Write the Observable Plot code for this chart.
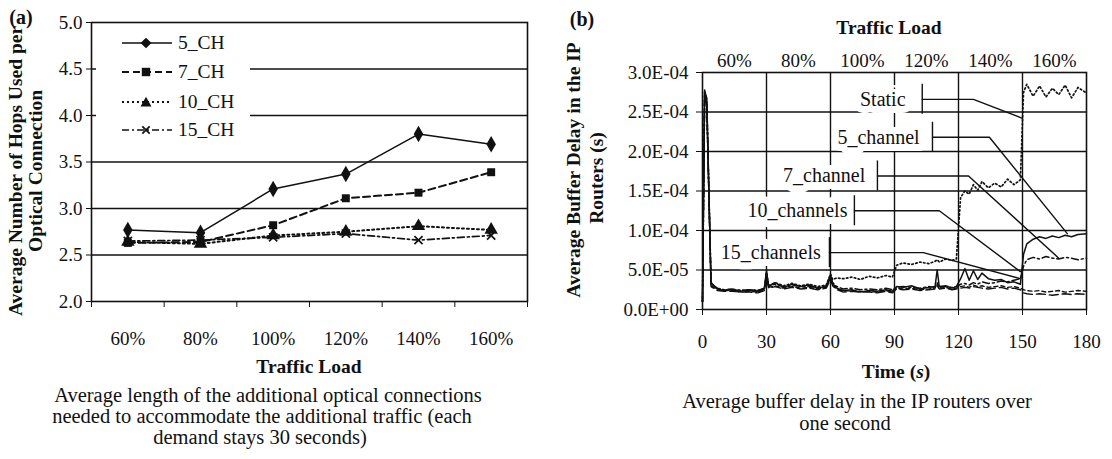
<!DOCTYPE html>
<html>
<head>
<meta charset="utf-8">
<script src="https://cdn.jsdelivr.net/npm/d3@7"></script>
<script src="https://cdn.jsdelivr.net/npm/@observablehq/plot@0.6"></script>
<style>
  html, body { margin: 0; padding: 0; background: #fff; }
  #root { position: relative; width: 1112px; height: 459px; overflow: hidden; background: #fff;
          font-family: "Liberation Serif", "Times New Roman", serif; color: #111; }
  .abs { position: absolute; white-space: nowrap; transform: translate(-50%, -50%); line-height: 1; }
  .rot { transform: translate(-50%, -50%) rotate(-90deg); }
  .b { font-weight: bold; }
  .tt { font-size: 19.5px; }
  .cap { font-size: 20.5px; }
  #panelA, #panelB { position: absolute; top: 0; }
  #panelA { left: 0; }
  #panelB { left: 545px; }
  #legend { position: absolute; left: 96px; top: 28px; width: 154px; height: 118px; background: #fff; }
  .lrow { position: absolute; left: 0; height: 22px; display: flex; align-items: center; font-size: 19.5px; }
  .lrow svg { margin-left: 25px; margin-right: 5px; }
</style>
</head>
<body>
<div id="root">
  <div id="panelA"></div>
  <div id="panelB"></div>
  <div id="legend"></div>

  <div class="abs b" style="left:21px; top:17px; font-size:20px;">(a)</div>
  <div class="abs b" style="left:582px; top:19px; font-size:20px;">(b)</div>

  <div class="abs rot b tt" style="left:16px; top:171px;">Average Number of Hops Used per</div>
  <div class="abs rot b tt" style="left:36px; top:171px;">Optical Connection</div>
  <div class="abs b tt" style="left:309px; top:367px;">Traffic Load</div>
  <div class="abs cap" style="left:268px; top:395px;">Average length of the additional optical connections</div>
  <div class="abs cap" style="left:262px; top:416px;">needed to accommodate the additional traffic (each</div>
  <div class="abs cap" style="left:260px; top:437px;">demand stays 30 seconds)</div>

  <div class="abs rot b tt" style="left:574px; top:170px;">Average Buffer Delay in the IP</div>
  <div class="abs rot b tt" style="left:597px; top:178px;">Routers (s)</div>
  <div class="abs b tt" style="left:889px; top:28px;">Traffic Load</div>
  <div class="abs b tt" style="left:896px; top:372px;">Time (<i>s</i>)</div>
  <div class="abs cap" style="left:857px; top:401px;">Average buffer delay in the IP routers over</div>
  <div class="abs cap" style="left:845px; top:423px;">one second</div>
</div>
<script>
// ---------- Panel (a) data ----------
const loads = ["60%", "80%", "100%", "120%", "140%", "160%"];
const hopSeries = ["5_CH", "7_CH", "10_CH", "15_CH"];
const hops5 = [2.77, 2.74, 3.21, 3.37, 3.80, 3.69];
const hops7 = [2.63, 2.64, 2.82, 3.11, 3.17, 3.39];
const hops10 = [2.64, 2.62, 2.71, 2.75, 2.81, 2.77];
const hops15 = [2.65, 2.66, 2.69, 2.73, 2.66, 2.71];
const hopTicks = [2.0, 2.5, 3.0, 3.5, 4.0, 4.5, 5.0];

// ---------- Panel (b) data (delay in units of 1E-05 s) ----------
const time = [0,1,2,4,7,10,14,18,22,26,
  29,30,31,34,38,42,46,50,54,58,
  60,61,63,66,70,74,78,82,86,89,
  91,94,98,102,106,109,110,111,114,117,
  119,121,123,125,127,129,131,134,137,140,
  143,146,149,150.5,152,155,158,161,164,167,
  170,173,176,180];
const delayStatic = [1.0,27.6,26.2,3.3,2.6,2.5,2.5,2.4,2.5,2.4,
  2.7,4.7,3.0,3.4,3.0,3.3,3.0,3.2,2.9,3.1,
  4.5,3.8,4.0,3.9,4.1,3.8,4.2,4.0,4.3,4.1,
  5.6,5.9,5.7,6.0,5.8,6.1,6.3,6.0,6.4,6.2,
  6.4,14.2,15.0,14.6,15.8,15.1,16.2,15.4,16.0,15.5,
  16.5,15.8,16.4,27.5,28.5,27.0,28.3,26.9,28.0,27.2,
  28.4,26.8,28.1,27.4];
const delay5 = [1.0,27.8,26.5,3.4,2.6,2.4,2.5,2.3,2.4,2.3,
  2.6,4.9,2.9,3.4,2.8,3.2,2.9,3.1,2.7,2.9,
  4.4,3.3,2.7,2.4,2.5,2.2,2.4,2.3,2.5,2.3,
  2.9,2.8,3.0,2.6,2.8,2.9,5.0,2.9,3.0,2.7,
  2.9,3.9,5.2,3.7,4.9,3.8,4.6,3.9,3.7,3.8,
  3.4,3.5,3.2,7.0,8.3,8.9,9.2,9.0,9.3,9.1,
  9.4,9.2,9.5,9.6];
const delay7 = [1.0,27.5,26.8,3.2,2.7,2.5,2.6,2.4,2.5,2.4,
  2.7,4.6,3.0,3.2,2.9,3.0,3.0,2.9,2.8,3.0,
  4.2,3.4,2.9,2.6,2.7,2.5,2.6,2.5,2.7,2.5,
  2.8,2.9,2.8,2.7,2.9,2.8,3.2,2.8,2.9,2.8,
  2.9,3.2,3.3,3.1,3.4,3.2,3.5,3.3,3.4,3.6,
  3.5,3.7,3.9,5.5,6.3,6.6,6.4,6.7,6.5,6.4,
  6.6,6.5,6.3,6.5];
const delay10 = [1.0,27.2,26.0,3.0,2.5,2.4,2.4,2.2,2.3,2.2,
  2.5,4.5,2.8,3.0,2.7,2.9,2.7,2.8,2.6,2.8,
  4.0,3.1,2.6,2.3,2.4,2.3,2.3,2.2,2.4,2.2,
  2.7,2.6,2.7,2.5,2.6,2.7,3.4,2.7,2.8,2.6,
  2.7,2.9,3.0,2.8,3.1,2.9,3.0,2.8,2.9,3.0,
  2.8,2.9,2.7,2.5,2.4,2.3,2.4,2.2,2.3,2.4,
  2.2,2.3,2.4,2.3];
const delay15 = [1.0,27.0,25.8,2.9,2.4,2.3,2.3,2.2,2.2,2.1,
  2.4,4.2,2.7,2.9,2.6,2.8,2.6,2.7,2.5,2.7,
  3.8,3.0,2.5,2.2,2.3,2.2,2.2,2.1,2.3,2.1,
  2.6,2.5,2.6,2.4,2.5,2.6,3.0,2.6,2.7,2.5,
  2.6,2.7,2.8,2.7,2.9,2.8,2.7,2.6,2.7,2.8,
  2.6,2.7,2.5,2.1,2.0,1.9,2.0,1.9,1.8,1.9,
  2.0,1.9,2.0,1.9];
const delayTicks = [0, 5e-5, 1e-4, 1.5e-4, 2e-4, 2.5e-4, 3e-4];
const timeTicks = [0, 30, 60, 90, 120, 150, 180];

// callout annotations (data units: seconds, 1E-05 s)
const calloutLabels = ["Static", "5_channel", "7_channel", "10_channels", "15_channels"];
const calloutLabelT = [84.5, 82.5, 57, 44.5, 32];
const calloutV = [26.6, 21.8, 16.9, 12.5, 7.2];
const leaderStartT = [103, 107.8, 82, 71.2, 59.5];
const leaderElbowT = [127, 134.5, 124.7, 111, 103.5];
const leaderEndT = [150, 171, 167, 149, 149];
const leaderEndV = [24.2, 9.6, 6.5, 4.8, 3.9];

// ---------- build tables ----------
const INK = "#111";
const hopsBy = {"5_CH": hops5, "7_CH": hops7, "10_CH": hops10, "15_CH": hops15};
const hopStyle = {
  "5_CH": {dash: null, sw: 1.5, symbol: "diamond", r: 5, filled: true},
  "7_CH": {dash: "7,4", sw: 2.0, symbol: "square", r: 4.5, filled: true},
  "10_CH": {dash: "2,3", sw: 2.0, symbol: "triangle", r: 5, filled: true},
  "15_CH": {dash: "7,3,2,3", sw: 1.7, symbol: "times", r: 3.8, filled: false}
};
const hopRows = [];
for (const s of hopSeries) hopsBy[s].forEach((v, i) => hopRows.push({series: s, x: i + 0.5, load: loads[i], v}));

const delayBy = {"Static": delayStatic, "5_channel": delay5, "7_channel": delay7, "10_channels": delay10, "15_channels": delay15};
const delayStyle = {
  "15_channels": {dash: "9,4", sw: 1.4},
  "10_channels": {dash: "4,3", sw: 1.4},
  "7_channel": {dash: "7,3,2,3", sw: 1.5},
  "Static": {dash: "1.5,2.5", sw: 1.7},
  "5_channel": {dash: null, sw: 1.5}
};
const delayRows = [];
for (const s of Object.keys(delayBy)) delayBy[s].forEach((v, i) => delayRows.push({series: s, t: time[i], v: v * 1e-5}));

const fmtE = v => {
  if (v === 0) return "0.0E+00";
  const e = Math.floor(Math.log10(v) + 1e-9);
  const m = v / Math.pow(10, e);
  return m.toFixed(1) + "E-" + String(-e).padStart(2, "0");
};

const FONT = '"Liberation Serif", "Times New Roman", serif';
const TICKFS = 19;

// ---------- Panel (a) ----------
const marksA = [
  Plot.ruleY(hopTicks.slice(1, -1), {stroke: INK, strokeWidth: 1.5}),
  Plot.frame({stroke: INK, strokeWidth: 1.6})
];
for (const s of hopSeries) {
  const st = hopStyle[s];
  const rows = hopRows.filter(d => d.series === s);
  marksA.push(Plot.line(rows, {x: "x", y: "v", stroke: INK, strokeWidth: st.sw, strokeDasharray: st.dash}));
  marksA.push(Plot.dot(rows, st.filled
    ? {x: "x", y: "v", symbol: () => st.symbol, r: st.r, fill: INK, stroke: "none"}
    : {x: "x", y: "v", symbol: () => st.symbol, r: st.r, stroke: INK, strokeWidth: 1.7}));
}
marksA.push(
  Plot.axisY({ticks: hopTicks, tickFormat: d3.format(".1f"), tickSize: 5, tickPadding: 4, label: null, fontSize: TICKFS}),
  Plot.axisX({ticks: d3.range(0, loads.length + 1), tickFormat: () => "", tickSize: 6, label: null}),
  Plot.axisX({ticks: loads.map((l, i) => i + 0.5), tickFormat: d => loads[Math.round(d - 0.5)], tickSize: 0, tickPadding: 30, label: null, fontSize: TICKFS})
);
const plotA = Plot.plot({
  width: 545, height: 360,
  marginLeft: 91, marginRight: 18, marginTop: 22, marginBottom: 59,
  x: {domain: [0, loads.length]},
  y: {domain: [2, 5]},
  symbol: {type: "identity"},
  style: {fontFamily: FONT, fontSize: TICKFS + "px", color: INK, background: "transparent"},
  marks: marksA
});
document.getElementById("panelA").appendChild(plotA);

// legend for panel (a)
const legend = document.getElementById("legend");
const symSvg = {
  "5_CH": `<path d="M25,0.8 L30.5,6 L25,11.2 L19.5,6 Z" fill="${INK}"/>`,
  "7_CH": `<rect x="20.8" y="1.8" width="8.4" height="8.4" fill="${INK}"/>`,
  "10_CH": `<path d="M25,0.8 L30.5,10.5 L19.5,10.5 Z" fill="${INK}"/>`,
  "15_CH": `<path d="M21.3,2.3 L28.7,9.7 M28.7,2.3 L21.3,9.7" stroke="${INK}" stroke-width="1.7"/>`
};
const legendTops = [4, 33, 63, 91];
hopSeries.forEach((s, i) => {
  const st = hopStyle[s];
  const row = document.createElement("div");
  row.className = "lrow";
  row.style.top = legendTops[i] + "px";
  row.innerHTML = `<svg width="52" height="12"><line x1="1" y1="6" x2="51" y2="6" stroke="${INK}" stroke-width="${st.sw}" ${st.dash ? `stroke-dasharray="${st.dash}"` : ""}/>${symSvg[s]}</svg><span>${s}</span>`;
  legend.appendChild(row);
});

// ---------- Panel (b) ----------
const marksB = [
  Plot.ruleY(delayTicks.slice(1, -1), {stroke: INK, strokeWidth: 1.4}),
  Plot.ruleX(timeTicks.slice(1, -1), {stroke: INK, strokeWidth: 1.4}),
  Plot.frame({stroke: INK, strokeWidth: 1.6})
];
for (const s of Object.keys(delayStyle)) {
  const st = delayStyle[s];
  marksB.push(Plot.line(delayRows.filter(d => d.series === s), {x: "t", y: "v", stroke: INK, strokeWidth: st.sw, strokeDasharray: st.dash}));
}
// callouts
const leaderRows = [];
const barRows = [];
const labelRows = [];
calloutLabels.forEach((lab, i) => {
  leaderRows.push({id: lab, t: leaderStartT[i], v: calloutV[i] * 1e-5});
  leaderRows.push({id: lab, t: leaderElbowT[i], v: calloutV[i] * 1e-5});
  leaderRows.push({id: lab, t: leaderEndT[i], v: leaderEndV[i] * 1e-5});
  barRows.push({t: leaderStartT[i], v1: (calloutV[i] - 1.9) * 1e-5, v2: (calloutV[i] + 1.9) * 1e-5});
  labelRows.push({text: lab, t: calloutLabelT[i], v: calloutV[i] * 1e-5});
});
marksB.push(
  Plot.text(labelRows, {x: "t", y: "v", text: "text", fontSize: 20, fill: "white", stroke: "white", strokeWidth: 14, fontFamily: FONT}),
  Plot.line(leaderRows, {x: "t", y: "v", z: "id", stroke: INK, strokeWidth: 1.4}),
  Plot.ruleX(barRows, {x: "t", y1: "v1", y2: "v2", stroke: INK, strokeWidth: 1.4}),
  Plot.text(labelRows, {x: "t", y: "v", text: "text", fontSize: 20, fill: INK, fontFamily: FONT}),
  Plot.axisY({ticks: delayTicks, tickFormat: fmtE, tickSize: 6, tickPadding: 8, label: null, fontSize: TICKFS}),
  Plot.axisX({ticks: timeTicks, tickSize: 6, tickPadding: 19, label: null, fontSize: TICKFS}),
  Plot.axisX({anchor: "top", ticks: timeTicks.slice(0, -1).map(t => t + 15), tickFormat: d => loads[Math.round((d - 15) / 30)], tickSize: 0, tickPadding: 6, label: null, fontSize: TICKFS})
);
const plotB = Plot.plot({
  width: 567, height: 360,
  marginLeft: 157, marginRight: 26, marginTop: 72, marginBottom: 51,
  x: {domain: [0, 180]},
  y: {domain: [0, 3e-4]},
  style: {fontFamily: FONT, fontSize: TICKFS + "px", color: INK, background: "transparent"},
  marks: marksB
});
document.getElementById("panelB").appendChild(plotB);
</script>
</body>
</html>
